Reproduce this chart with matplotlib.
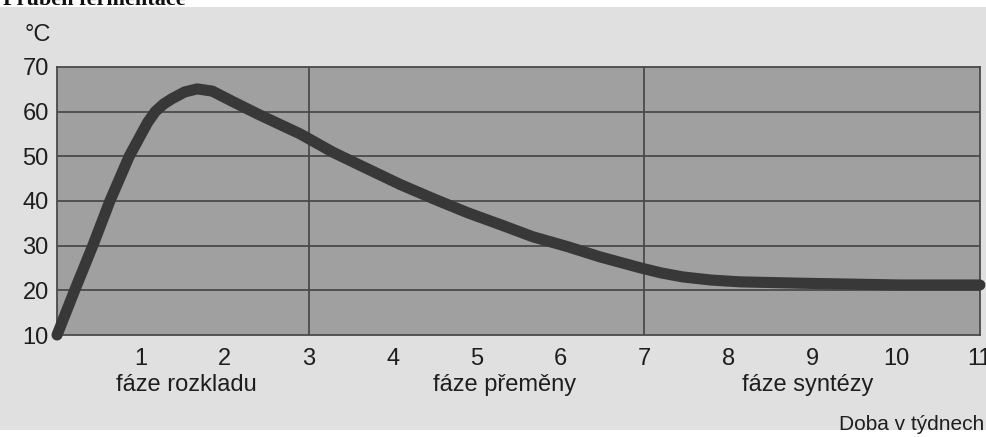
import matplotlib.pyplot as plt
from matplotlib.patches import Rectangle
from matplotlib.transforms import blended_transform_factory

plt.rcParams['font.family'] = ['Liberation Sans', 'DejaVu Sans']

# temperature curve (weeks, degrees C)
weeks = [0, 0.21, 0.43, 0.63, 0.86, 0.99, 1.08, 1.17, 1.27, 1.37, 1.52, 1.67,
         1.85, 2.1, 2.4, 2.9, 3.29, 3.7, 4.09, 4.5, 4.89, 5.3, 5.67, 6.1,
         6.47, 6.96, 7.2, 7.46, 7.8, 8.14, 8.86, 10.05, 11]
temp = [10, 20, 30.2, 40, 50, 54.5, 57.6, 60, 61.7, 62.9, 64.4, 65.1,
        64.6, 62.2, 59.4, 55, 50.9, 47.2, 43.7, 40.4, 37.4, 34.6, 32, 29.7,
        27.5, 25, 23.9, 23, 22.3, 21.9, 21.6, 21.2, 21.2]

x_ticks = [1, 2, 3, 4, 5, 6, 7, 8, 9, 10, 11]
y_ticks = [10, 20, 30, 40, 50, 60, 70]
phase_names = ['fáze rozkladu', 'fáze přeměny', 'fáze syntézy']
phase_pos = [1.54, 5.33, 8.95]
phase_split = [3, 7]

fig = plt.figure(figsize=(9.87, 4.37), dpi=100, facecolor='white')
# scanned page background
fig.patches.append(Rectangle((0, 7 / 437), 1, 423 / 437, transform=fig.transFigure,
                             facecolor='#e0e0e0', edgecolor='none', zorder=-5))
fig.text(0.003, 1.0, 'Průběh fermentace', fontsize=16, fontweight='bold',
         family='Liberation Serif', va='center', ha='left', color='#111111')

ax = fig.add_axes([0.0578, 0.2334, 0.935, 0.6133])
ax.set_facecolor('#a0a0a0')
ax.set_xlim(0, 11)
ax.set_ylim(10, 70)

for y in y_ticks[1:-1]:
    ax.axhline(y, color='#4a4a4a', lw=1.3, zorder=1)
for x in phase_split:
    ax.axvline(x, color='#4a4a4a', lw=1.3, zorder=1)

ax.plot(weeks, temp, color='#383838', lw=8, solid_capstyle='round',
        solid_joinstyle='round', zorder=3, clip_on=False)

for s in ax.spines.values():
    s.set_color('#4a4a4a')
    s.set_linewidth(1.3)

ax.set_xticks(x_ticks)
ax.set_yticks(y_ticks)
ax.tick_params(length=0, labelsize=17, colors='#1e1e1e')
ax.tick_params(axis='x', pad=9)
ax.tick_params(axis='y', pad=6)

tr = blended_transform_factory(ax.transData, ax.transAxes)
for name, p in zip(phase_names, phase_pos):
    ax.text(p, -0.185, name, transform=tr, ha='center', va='center',
            fontsize=17, color='#1e1e1e')

fig.text(0.038, 0.92, '°C', fontsize=17, ha='center', va='center', color='#1e1e1e')
fig.text(0.997, 0.028, 'Doba v týdnech', fontsize=15, ha='right', va='center',
         color='#1e1e1e')

fig.savefig('out.png', dpi=100, facecolor=fig.get_facecolor())
